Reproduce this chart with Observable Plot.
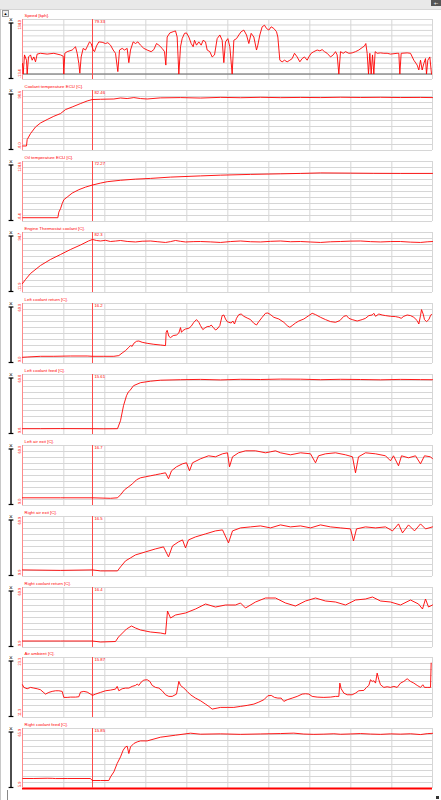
<!DOCTYPE html>
<html><head><meta charset="utf-8">
<script src="https://cdn.jsdelivr.net/npm/d3@7"></script>
<script src="https://cdn.jsdelivr.net/npm/@observablehq/plot@0.6"></script>
<style>
body{margin:0;background:#fff;}
#wrap{position:relative;width:441px;height:800px;overflow:hidden;font-family:"Liberation Sans",Arial,sans-serif;background:#fff;}
.p{position:absolute;left:0;}
#topbar{position:absolute;left:0;top:0;width:441px;height:9px;background:#e9e9e9;border-bottom:1px solid #d6d6d6;}
#upbtn{position:absolute;left:2px;top:10px;width:5px;height:5px;border:1px solid #999;background:#eee;font-size:4px;line-height:5px;text-align:center;color:#000;}
#pm{position:absolute;left:431px;top:0;width:10px;height:6px;background:#555;color:#fff;font-size:5px;line-height:6px;text-align:center;}
#leftline{position:absolute;left:0;top:9px;width:1px;height:791px;background:#c8c8c8;}
#bl{position:absolute;left:7px;top:790px;width:1px;height:10px;background:#888;}
#br{position:absolute;left:436px;top:796px;width:3px;height:3px;background:#333;}
</style></head><body><div id="wrap"><div id="topbar"></div><div id="upbtn">▲</div><div id="pm">+-</div><div id="leftline"></div><div id="bl"></div><div id="br"></div></div>
<script>
// ---------- DATA (time units across the run, values in channel units) ----------
const titles = ["Speed [kph].","Coolant temperature ECU [C].","Oil temperature ECU [C].","Engine Thermostat coolant [C].","Left coolant return [C].","Left coolant feed [C].","Left air exit [C].","Right air exit [C].","Right coolant return [C].","Air ambient [C].","Right coolant feed [C]."];
const cursorLabels = ["79.33","82.46","72.27","82.3","16.2","15.61","16.7","16.5","16.4","15.87","15.85"];
const yDomains = [[-13.4,134],[-8,98.6],[-8.4,124.6],[-11.9,94.7],[9,69],[9.8,69.8],[9,69],[9.9,69.9],[9.9,69.9],[11.32,23.32],[5.85,65.85]];
const yTickLabels = [["134.0","-13.4"],["98.6","-8.0"],["124.6","-8.4"],["94.7","-11.9"],["69.0","9.0"],["69.8","9.8"],["69.0","9.0"],["69.9","9.9"],["69.9","9.9"],["23.3","11.3"],["65.9","5.9"]];
const timeDomain = [6,1236];
const cursorTime = 216;
const gridTimes = [130,253,376,499,622,745,868,991,1114,1236];

const speed = [[6,26],[8,0],[12,47],[18,34],[20,0],[24,42],[30,47],[35,34],[40,42],[45,30],[50,49],[60,51],[80,49],[100,51],[120,47],[128,44],[130,0],[133,51],[140,55],[155,59],[160,63],[165,67],[170,51],[175,26],[178,2],[182,42],[188,63],[195,59],[200,67],[207,79],[212,75],[218,59],[222,55],[228,69],[235,79],[245,78],[255,75],[262,77],[270,71],[278,59],[285,51],[292,6],[297,59],[305,63],[312,59],[320,63],[325,28],[330,59],[338,79],[345,75],[352,79],[360,71],[370,63],[380,59],[392,55],[400,60],[408,75],[415,71],[425,63],[432,55],[436,22],[440,91],[448,101],[458,104],[465,106],[470,91],[475,0],[480,67],[485,87],[492,100],[498,101],[505,91],[512,75],[518,67],[522,83],[528,71],[535,79],[542,71],[548,83],[555,79],[560,59],[568,55],[575,42],[582,47],[590,87],[598,96],[605,83],[610,28],[615,79],[622,87],[628,67],[635,0],[640,83],[648,87],[655,96],[662,104],[670,108],[678,96],[685,75],[692,100],[700,91],[708,59],[712,71],[718,96],[725,116],[732,120],[738,112],[745,108],[752,116],[760,112],[768,104],[772,91],[778,34],[785,30],[792,34],[800,30],[808,34],[815,38],[822,51],[830,42],[838,30],[845,38],[852,42],[860,34],[865,42],[872,51],[880,55],[890,59],[898,57],[905,60],[912,55],[920,51],[930,42],[938,47],[945,55],[950,47],[955,0],[960,55],[968,51],[975,55],[985,51],[995,52],[1005,55],[1015,59],[1025,65],[1032,69],[1036,75],[1040,51],[1044,0],[1048,51],[1052,0],[1056,47],[1060,0],[1064,55],[1070,51],[1080,52],[1090,51],[1100,51],[1110,49],[1130,51],[1135,51],[1138,0],[1142,51],[1160,52],[1170,51],[1180,34],[1190,22],[1195,10],[1200,34],[1205,10],[1210,26],[1215,38],[1218,0],[1222,34],[1228,42],[1233,0]];

const coolantECU = [[7,0],[18,0],[20,11.4],[30,22],[45,33.8],[60,40.9],[80,47],[100,52.8],[120,57.6],[135,64.7],[155,69.3],[180,75.4],[200,80],[215,82.5],[240,83],[280,83.5],[300,85.3],[320,84.3],[340,86],[360,84.3],[380,83.5],[420,85.5],[480,86],[540,85.2],[600,86.4],[660,85.8],[720,86.5],[780,85.9],[840,86.3],[900,86],[960,86.6],[1020,86.2],[1080,86.5],[1140,86.1],[1200,86.3],[1236,86]];

const oilECU = [[7,0],[112,0],[115,12.4],[120,20],[125,31],[130,39.9],[140,45.7],[155,54.5],[175,62.1],[195,67.8],[215,72.3],[240,76.7],[260,79.8],[300,83],[345,85.5],[390,87.1],[450,90],[540,92.7],[600,94.3],[690,96],[780,97.3],[840,98.2],[900,99.3],[990,98.8],[1060,98.4],[1140,98.2],[1236,98.2]];

const thermostat = [[6,4],[15,11.2],[30,21.9],[60,36.1],[90,46.8],[120,55.6],[150,64.5],[180,72.5],[204,79.6],[216,82.3],[228,80.5],[240,79.6],[255,80.8],[270,78.7],[285,79.5],[300,80.5],[320,78.8],[345,77.9],[365,79.2],[390,79.6],[410,78.4],[435,77],[450,78.5],[465,80.5],[480,79],[495,77.9],[520,78.5],[540,78.7],[570,78],[600,77],[630,78.6],[660,79.6],[690,78.3],[720,77.9],[750,79],[780,79.6],[810,78.3],[840,78.7],[870,77.8],[900,77],[930,78.2],[960,78.7],[990,79.4],[1020,79.6],[1050,78.5],[1080,77.9],[1110,78.6],[1140,78.7],[1170,77.6],[1200,77],[1220,78.1],[1236,78.7]];

const leftCoolantReturn = [[6,15.2],[20,15.5],[60,16.2],[100,16.2],[150,16.5],[200,16.5],[216,16.2],[250,16.2],[280,16.2],[295,16.9],[305,19.5],[315,21.9],[325,25.2],[330,26.9],[335,26.2],[340,29.2],[348,31.2],[355,31.5],[365,30.2],[380,29.2],[400,28.2],[420,27.5],[435,26.9],[437,40.2],[440,42.2],[445,36.2],[450,34.9],[458,36.9],[468,37.5],[475,39.5],[480,44.9],[483,40.2],[487,41.9],[495,43.5],[505,44.2],[512,46.2],[520,50.2],[528,52.9],[535,50.2],[540,46.9],[547,42.9],[553,44.5],[560,45.9],[568,46.2],[572,47.5],[578,45.2],[585,42.5],[590,43.5],[598,46.9],[605,56.9],[610,57.5],[615,53.5],[620,50.9],[625,50.2],[632,49.5],[637,51.5],[642,48.5],[648,54.2],[655,57.9],[662,58.5],[670,56.2],[680,54.5],[690,52.9],[700,49.2],[708,47.5],[715,50.9],[725,55.2],[735,59.2],[742,59.5],[750,57.9],[760,55.2],[775,53.5],[790,50.2],[800,46.9],[808,45.2],[815,46.9],[825,49.5],[835,51.5],[850,53.5],[865,56.9],[875,59.2],[885,57.9],[900,55.2],[915,52.9],[930,50.9],[945,50.2],[958,51.9],[970,56.2],[978,56.9],[985,54.2],[995,52.9],[1010,51.5],[1025,52.9],[1035,54.2],[1045,56.9],[1055,57.5],[1060,59.2],[1065,56.2],[1075,58.5],[1085,57.5],[1095,56.9],[1110,56.2],[1125,55.9],[1135,55.2],[1142,54.2],[1150,56.2],[1160,57.5],[1170,56.9],[1180,55.2],[1190,51.9],[1195,48.5],[1200,56.9],[1203,62.9],[1208,58.5],[1212,52.9],[1218,50.9],[1225,52.9],[1230,56.9],[1233,58.2]];

const leftCoolantFeed = [[6,15.6],[60,15.6],[120,15.7],[216,15.6],[250,15.5],[291,15.6],[300,23.6],[309,38.6],[318,48.6],[324,52.6],[328,53.6],[339,58.6],[360,61.6],[390,63.1],[420,64.1],[480,64.6],[540,64.9],[600,64.4],[660,65],[720,64.8],[780,65.2],[840,65.1],[900,64.6],[960,65],[1020,64.8],[1080,64.5],[1140,64.9],[1200,64.7],[1236,64.6]];

const leftAirExit = [[6,16.7],[120,16.7],[216,16.7],[270,16.2],[291,16.7],[300,19.7],[312,24.7],[324,27.7],[336,30.7],[348,34.7],[360,36.7],[375,37.7],[390,38.7],[405,39.7],[420,40.7],[435,41.7],[444,35.7],[453,43.7],[468,47.7],[486,50.7],[498,51.7],[507,43.7],[516,51.7],[540,55.7],[564,58.7],[585,57.7],[606,60.7],[621,61.7],[627,47.7],[636,57.7],[654,61.7],[675,63.7],[705,63.7],[735,61.7],[750,62.7],[765,63.7],[780,61.7],[810,59.7],[840,61.7],[870,60.7],[885,51.7],[894,58.7],[915,60.7],[945,61.7],[975,59.7],[996,57.7],[1005,41.7],[1014,57.7],[1035,61.7],[1065,60.7],[1095,58.7],[1110,53.7],[1119,58.7],[1134,48.7],[1143,58.7],[1164,56.7],[1185,58.7],[1200,50.7],[1212,58.7],[1230,57.7],[1236,55.7]];

const rightAirExit = [[6,16.5],[120,16],[216,16.5],[240,15.5],[291,15.5],[300,19.5],[315,25.5],[330,28.5],[345,31.5],[375,34.5],[405,37.5],[429,39.5],[444,29.5],[456,40.5],[474,44.5],[486,46.5],[495,38.5],[504,46.5],[525,49.5],[555,52.5],[585,55.5],[606,56.5],[624,43.5],[636,55.5],[660,58.5],[690,59.5],[720,60.5],[750,58.5],[780,61.5],[810,59.5],[840,60.5],[870,58.5],[900,61.5],[930,59.5],[960,58.5],[990,57.5],[999,45.5],[1008,57.5],[1035,59.5],[1065,58.5],[1095,59.5],[1116,55.5],[1134,62.5],[1146,53.5],[1164,61.5],[1182,55.5],[1200,62.5],[1215,57.5],[1236,59.5]];

const rightCoolantReturn = [[6,16.4],[120,16.4],[216,16.4],[240,15.4],[285,15.9],[294,20.4],[306,24.4],[318,28.4],[333,31.4],[345,29.4],[360,27.4],[390,25.4],[420,24.4],[435,23.4],[441,46.4],[450,39.4],[465,42.4],[495,44.4],[525,48.4],[555,53.4],[585,50.4],[615,52.4],[645,52.4],[660,54.4],[675,49.4],[705,55.4],[735,59.4],[765,59.4],[795,54.4],[825,51.4],[855,56.4],[885,59.4],[915,56.4],[945,55.4],[975,52.4],[1005,57.4],[1035,58.4],[1056,60.4],[1080,56.4],[1110,55.4],[1140,52.4],[1170,57.4],[1194,53.4],[1206,48.4],[1215,58.4],[1224,50.4],[1236,52.4]];

const airAmbient = [[6,17.87],[10,17.34],[20,17.07],[30,17.34],[40,17.2],[50,17.07],[60,16.87],[68,16.4],[75,16.0],[85,16.34],[95,16.54],[105,16.67],[115,16.67],[125,16.54],[130,15.34],[140,15.34],[150,15.4],[165,15.4],[175,15.47],[180,16.4],[190,16.54],[200,16.4],[210,16.0],[216,15.74],[225,16.0],[240,16.34],[255,16.67],[270,16.8],[285,17.0],[290,17.54],[295,16.67],[305,17.07],[315,17.2],[325,17.2],[335,17.54],[345,17.74],[350,18.0],[355,17.74],[362,18.4],[370,18.8],[380,18.87],[388,18.54],[395,17.74],[405,17.34],[415,17.2],[425,16.67],[435,15.87],[445,15.54],[455,15.54],[468,16.0],[475,18.54],[480,17.74],[490,17.2],[500,16.54],[510,15.87],[525,15.2],[540,14.67],[555,14.0],[565,13.54],[575,13.0],[590,13.2],[600,13.34],[620,13.34],[640,13.34],[660,13.54],[680,13.74],[700,14.0],[715,14.4],[730,14.87],[742,15.67],[752,15.74],[762,15.34],[772,15.2],[782,15.2],[790,14.54],[800,14.87],[815,15.2],[830,15.54],[845,16.0],[855,16.07],[865,16.0],[875,15.54],[890,15.4],[910,15.34],[930,15.4],[945,15.54],[955,15.54],[958,18.2],[962,17.07],[970,16.2],[980,15.87],[995,15.87],[1005,16.2],[1015,16.67],[1030,16.74],[1038,17.34],[1045,17.74],[1050,18.87],[1055,18.54],[1060,18.67],[1065,18.2],[1070,20.2],[1075,18.87],[1080,17.87],[1090,17.34],[1100,17.47],[1110,17.34],[1120,17.54],[1130,17.34],[1140,18.2],[1150,18.54],[1160,19.07],[1170,18.54],[1180,18.2],[1190,17.74],[1200,17.34],[1207,17.87],[1212,17.34],[1220,17.34],[1230,17.34],[1232,22.2]];

const rightCoolantFeed = [[7,15.85],[40,15.85],[80,16.1],[95,16.0],[105,15.8],[140,15.85],[210,15.85],[215,13.85],[240,13.85],[265,13.85],[270,17.45],[280,22.45],[290,30.85],[300,37.45],[308,44.15],[315,47.45],[320,48.15],[325,40.85],[330,47.45],[340,50.85],[350,52.45],[360,53.45],[380,53.45],[420,57.15],[465,59.15],[510,61.15],[540,60.15],[600,60.5],[660,60],[720,60.4],[780,60.8],[820,61.2],[850,60.3],[880,60],[910,60.2],[940,60.6],[960,60.1],[990,60.4],[1020,60.8],[1050,60.3],[1080,60],[1110,60.5],[1140,60.2],[1170,60.6],[1200,59.8],[1220,60.7],[1236,61]];

const series = [speed, coolantECU, oilECU, thermostat, leftCoolantReturn, leftCoolantFeed, leftAirExit, rightAirExit, rightCoolantReturn, airAmbient, rightCoolantFeed];

// ---------- LAYOUT ----------
const wrap = document.getElementById("wrap");
const PITCH = 70.9, FIRST_TOP = 19.3, MT = 12, PH = 60;
const RED = "#ff0000", GRID = "#d6d6d6";
const FONT = "Liberation Sans, Arial, sans-serif";

function leftDeco(k) {
  return (index, scales, values, dims) => {
    const g = d3.create("svg:g").attr("font-family", FONT);
    const top = dims.marginTop, bot = dims.height - dims.marginBottom;
    g.append("text").attr("x", 11).attr("y", top + 2.6).attr("text-anchor", "middle")
      .attr("font-size", 6.5).attr("fill", "#222").text("×");
    g.append("line").attr("x1", 11).attr("x2", 11).attr("y1", top + 4).attr("y2", bot - 0.5)
      .attr("stroke", "#000").attr("stroke-width", 1.4);
    g.append("line").attr("x1", 8.6).attr("x2", 13.4).attr("y1", top + 4).attr("y2", top + 4)
      .attr("stroke", "#000").attr("stroke-width", 1.2);
    g.append("line").attr("x1", 8.6).attr("x2", 13.4).attr("y1", bot - 0.5).attr("y2", bot - 0.5)
      .attr("stroke", "#000").attr("stroke-width", 1.2);
    g.append("text").attr("transform", `translate(20.6,${top + 1}) rotate(-90)`)
      .attr("text-anchor", "end").attr("font-size", 3.8).attr("fill", RED).text(yTickLabels[k][0]);
    g.append("text").attr("transform", `translate(20.6,${bot - 1}) rotate(-90)`)
      .attr("text-anchor", "start").attr("font-size", 3.8).attr("fill", RED).text(yTickLabels[k][1]);
    return g.node();
  };
}

series.forEach((data, k) => {
  const [lo, hi] = yDomains[k];
  const isLast = k === series.length - 1;
  const nDiv = k === 0 ? 11 : 10;
  const gridVals = d3.range(nDiv + 1).map(i => lo + i * (hi - lo) / nDiv);
  const mb = isLast ? 5 : 0;
  const marks = [
    Plot.ruleY(gridVals, {stroke: GRID, strokeWidth: 1}),
    Plot.ruleX(gridTimes, {stroke: GRID, strokeWidth: 1}),
  ];
  if (k === 0) marks.push(Plot.ruleY([0], {stroke: "#666", strokeWidth: 1}));
  if (isLast) marks.push(Plot.ruleY([lo], {stroke: RED, strokeWidth: 2}));
  marks.push(
    Plot.ruleX([timeDomain[0]], {stroke: "#ff8a8a", strokeWidth: 1}),
    Plot.ruleX([cursorTime], {stroke: "#ff4a4a", strokeWidth: 1}),
    Plot.line(data, {x: d => d[0], y: d => d[1], stroke: RED, strokeWidth: 0.9}),
    Plot.text([titles[k]], {frameAnchor: "top-left", dx: 2, dy: -2.2, textAnchor: "start", lineAnchor: "bottom", fill: RED, fontSize: 4.4, fontFamily: FONT}),
    Plot.text([cursorLabels[k]], {x: () => cursorTime, y: () => hi, dx: 2, dy: 3.4, textAnchor: "start", lineAnchor: "bottom", fill: RED, fontSize: 4.2, fontFamily: FONT}),
    leftDeco(k)
  );
  const svg = Plot.plot({
    width: 441, height: MT + PH + mb,
    marginLeft: 22, marginRight: 9, marginTop: MT, marginBottom: mb,
    x: {domain: timeDomain, axis: null},
    y: {domain: [lo, hi], axis: null},
    style: {background: "none", fontFamily: FONT, overflow: "visible"},
    marks
  });
  const holder = document.createElement("div");
  holder.className = "p";
  holder.style.top = (FIRST_TOP + PITCH * k - MT) + "px";
  holder.appendChild(svg);
  wrap.appendChild(holder);
});
</script></body></html>
